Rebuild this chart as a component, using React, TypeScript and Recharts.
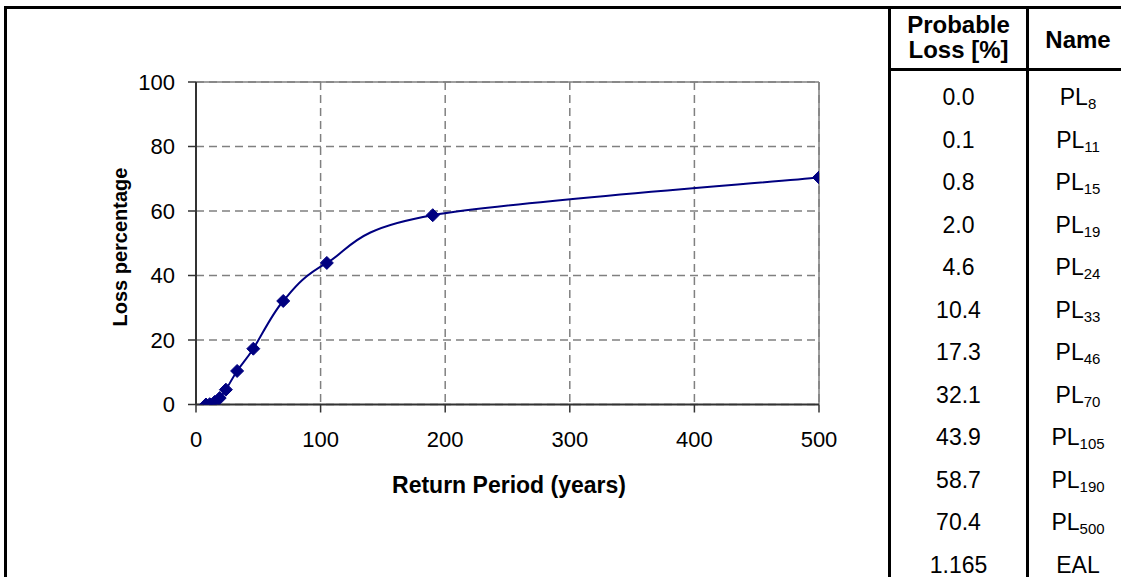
import React from 'react';
import { LineChart, Line, XAxis, YAxis, CartesianGrid, ReferenceLine } from 'recharts';

const FONT = '"Liberation Sans", Arial, Helvetica, sans-serif';

// Chart data
const returnPeriods = [8, 11, 15, 19, 24, 33, 46, 70, 105, 190, 500];
const lossPercentages = [0.0, 0.1, 0.8, 2.0, 4.6, 10.4, 17.3, 32.1, 43.9, 58.7, 70.4];
const xTicks = [0, 100, 200, 300, 400, 500];
const yTicks = [0, 20, 40, 60, 80, 100];

// Table data
const tableLoss = ['0.0', '0.1', '0.8', '2.0', '4.6', '10.4', '17.3', '32.1', '43.9', '58.7', '70.4', '1.165'];
const tableNameBase = ['PL', 'PL', 'PL', 'PL', 'PL', 'PL', 'PL', 'PL', 'PL', 'PL', 'PL', 'EAL'];
const tableNameSub = ['8', '11', '15', '19', '24', '33', '46', '70', '105', '190', '500', ''];

const chartData = returnPeriods.map((x, i) => ({ x, y: lossPercentages[i] }));

// Excel-like smoothed line (Catmull-Rom Bezier)
const excelCurve: any = (context: any) => {
  let pts: number[][] = [];
  return {
    areaStart() {},
    areaEnd() {},
    lineStart() {
      pts = [];
    },
    point(x: number, y: number) {
      pts.push([+x, +y]);
    },
    lineEnd() {
      const n = pts.length;
      if (!n) return;
      context.moveTo(pts[0][0], pts[0][1]);
      for (let i = 0; i < n - 1; i++) {
        const p0 = pts[i - 1] || pts[i];
        const p1 = pts[i];
        const p2 = pts[i + 1];
        const p3 = pts[i + 2] || p2;
        const c1x = p1[0] + (p2[0] - p0[0]) / 6;
        const c1y = p1[1] + (p2[1] - p0[1]) / 6;
        const c2x = p2[0] - (p3[0] - p1[0]) / 6;
        const c2y = p2[1] - (p3[1] - p1[1]) / 6;
        context.bezierCurveTo(c1x, c1y, c2x, c2y, p2[0], p2[1]);
      }
    },
  };
};

const Diamond = (props: any) => {
  const { cx, cy, index } = props;
  if (cx == null || cy == null) return <g key={`d-${index}`} />;
  const r = 6.5;
  return (
    <path
      key={`d-${index}`}
      d={`M${cx},${cy - r}L${cx + r},${cy}L${cx},${cy + r}L${cx - r},${cy}Z`}
      fill="#000080"
      stroke="#000080"
      strokeWidth={1}
    />
  );
};

const ROW0 = 97.5;
const ROWH = 42.5;
const COL1_L = 891;
const COL1_W = 135;
const COL2_L = 1029;
const COL2_W = 98;

const textTop = (center: number, fs: number) => center - 0.488 * fs;

export default function App() {
  return (
    <div
      style={{
        position: 'absolute',
        left: 0,
        top: 0,
        width: 1121,
        height: 577,
        overflow: 'hidden',
        background: '#fff',
        fontFamily: FONT,
        color: '#000',
      }}
    >
      <div style={{ position: 'absolute', left: 0, top: 0 }}>
        <LineChart
          width={888}
          height={577}
          data={chartData}
          margin={{ top: 82, right: 69, bottom: 72.5, left: 0 }}
        >
          <CartesianGrid stroke="#808080" strokeDasharray="8 5" strokeWidth={1.5} />
          <XAxis
            type="number"
            dataKey="x"
            domain={[0, 500]}
            ticks={xTicks}
            interval={0}
            allowDataOverflow
            height={100}
            tickSize={8}
            tickMargin={19}
            axisLine={{ stroke: '#333', strokeWidth: 2 }}
            tickLine={{ stroke: '#333', strokeWidth: 1.5 }}
            tick={{ fill: '#000', fontSize: 22, fontFamily: FONT }}
          />
          <YAxis
            type="number"
            domain={[0, 100]}
            ticks={yTicks}
            interval={0}
            allowDataOverflow
            width={196}
            tickSize={8}
            tickMargin={13}
            axisLine={{ stroke: '#333', strokeWidth: 2 }}
            tickLine={{ stroke: '#333', strokeWidth: 1.5 }}
            tick={{ fill: '#000', fontSize: 22, fontFamily: FONT }}
          />
          <ReferenceLine y={100} stroke="#808080" strokeWidth={1.5} />
          <ReferenceLine x={500} stroke="#808080" strokeWidth={1.5} />
          <Line
            dataKey="y"
            type={excelCurve}
            stroke="#000080"
            strokeWidth={2}
            dot={Diamond}
            activeDot={false}
            isAnimationActive={false}
          />
        </LineChart>
      </div>

      {/* axis titles */}
      <div
        style={{
          position: 'absolute',
          left: 509 - 200,
          top: textTop(485, 23),
          width: 400,
          textAlign: 'center',
          fontSize: 23,
          lineHeight: '23px',
          fontWeight: 'bold',
          whiteSpace: 'nowrap',
        }}
      >
        Return Period (years)
      </div>
      <div
        style={{
          position: 'absolute',
          left: 120 - 150,
          top: 246.5 - 10,
          width: 300,
          height: 20,
          textAlign: 'center',
          fontSize: 20,
          lineHeight: '20px',
          fontWeight: 'bold',
          whiteSpace: 'nowrap',
          transform: 'rotate(-90deg)',
          transformOrigin: '150px 10px',
        }}
      >
        Loss percentage
      </div>

      {/* frame lines */}
      <div style={{ position: 'absolute', left: 4, top: 6, width: 1117, height: 3, background: '#000' }} />
      <div style={{ position: 'absolute', left: 4, top: 6, width: 3, height: 571, background: '#000' }} />
      <div style={{ position: 'absolute', left: 888, top: 6, width: 3, height: 571, background: '#000' }} />
      <div style={{ position: 'absolute', left: 1026, top: 6, width: 3, height: 571, background: '#000' }} />
      <div style={{ position: 'absolute', left: 888, top: 68, width: 233, height: 3, background: '#000' }} />

      {/* table header */}
      <div
        style={{
          position: 'absolute',
          left: COL1_L,
          top: textTop(23.5, 24),
          width: COL1_W,
          textAlign: 'center',
          fontSize: 24,
          lineHeight: '25px',
          fontWeight: 'bold',
        }}
      >
        Probable
        <br />
        Loss [%]
      </div>
      <div
        style={{
          position: 'absolute',
          left: COL2_L,
          top: textTop(39.5, 24),
          width: COL2_W,
          textAlign: 'center',
          fontSize: 24,
          lineHeight: '24px',
          fontWeight: 'bold',
        }}
      >
        Name
      </div>

      {/* table rows */}
      {tableLoss.map((v, i) => (
        <div
          key={`v-${i}`}
          style={{
            position: 'absolute',
            left: COL1_L,
            top: textTop(ROW0 + i * ROWH, 23),
            width: COL1_W,
            textAlign: 'center',
            fontSize: 23,
            lineHeight: '23px',
          }}
        >
          {v}
        </div>
      ))}
      {tableNameBase.map((b, i) => (
        <div
          key={`n-${i}`}
          style={{
            position: 'absolute',
            left: COL2_L,
            top: textTop(ROW0 + i * ROWH, 23),
            width: COL2_W,
            textAlign: 'center',
            fontSize: 23,
            lineHeight: '23px',
            whiteSpace: 'nowrap',
          }}
        >
          {b}
          {tableNameSub[i] ? (
            <span style={{ fontSize: 15, position: 'relative', top: 4 }}>{tableNameSub[i]}</span>
          ) : null}
        </div>
      ))}
    </div>
  );
}
